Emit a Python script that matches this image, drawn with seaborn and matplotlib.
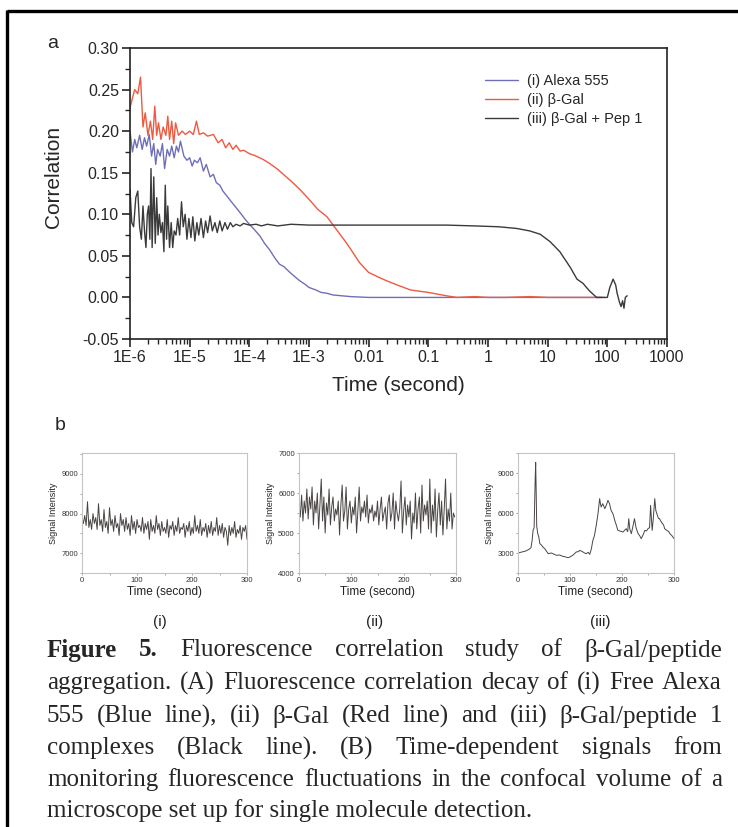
import numpy as np
import matplotlib
matplotlib.use("Agg")
import matplotlib.pyplot as plt
from matplotlib.lines import Line2D
from matplotlib.ticker import MultipleLocator, LogLocator, NullFormatter
import seaborn as sns

W, H = 738, 827

# ---- panel a: correlation decay (time in s, correlation) ----
alexa_t = [1.0e-6, 1.1e-6, 1.2e-6, 1.3e-6, 1.45e-6, 1.6e-6, 1.75e-6, 1.9e-6, 2.1e-6,
           2.3e-6, 2.5e-6, 2.7e-6, 2.9e-6, 3.2e-6, 3.5e-6, 3.8e-6, 4.2e-6, 4.6e-6,
           5.0e-6, 5.5e-6, 6.0e-6, 6.5e-6, 7.0e-6, 8e-6, 9e-6, 1.0e-5, 1.1e-5, 1.2e-5,
           1.35e-5, 1.5e-5, 1.7e-5, 1.9e-5, 2.2e-5, 2.5e-5, 2.8e-5, 3.2e-5, 3.6e-5,
           4.2e-5, 5e-5, 6e-5, 7e-5, 8.5e-5, 1e-4, 1.2e-4, 1.5e-4, 1.8e-4, 2.2e-4,
           2.7e-4, 3.2e-4, 3.8e-4, 4.8e-4, 6e-4, 7e-4, 8.5e-4, 1e-3, 1.3e-3, 1.6e-3,
           2e-3, 2.5e-3, 3.5e-3, 5e-3, 1e-2, 0.03, 0.1, 0.3, 1, 3, 10, 30, 90]
alexa_g = [0.200, 0.175, 0.190, 0.180, 0.195, 0.178, 0.192, 0.182, 0.196,
           0.170, 0.185, 0.160, 0.178, 0.170, 0.185, 0.155, 0.178, 0.170,
           0.182, 0.168, 0.182, 0.175, 0.188, 0.170, 0.165, 0.168, 0.158, 0.165,
           0.162, 0.168, 0.152, 0.160, 0.145, 0.148, 0.138, 0.135, 0.128,
           0.122, 0.115, 0.108, 0.102, 0.094, 0.088, 0.082, 0.074, 0.065, 0.057,
           0.047, 0.040, 0.037, 0.030, 0.024, 0.020, 0.016, 0.012, 0.009, 0.006,
           0.005, 0.003, 0.002, 0.001, 0.000, 0.000, 0.000, 0.000, 0.000, 0.000, 0.000, 0.000, 0.000]

bgal_t = [1.0e-6, 1.1e-6, 1.2e-6, 1.35e-6, 1.5e-6, 1.65e-6, 1.8e-6, 2.0e-6, 2.2e-6,
          2.4e-6, 2.6e-6, 2.8e-6, 3.0e-6, 3.3e-6, 3.6e-6, 4.0e-6, 4.3e-6, 4.6e-6,
          5.0e-6, 5.4e-6, 5.8e-6, 6.5e-6, 7.5e-6, 8.5e-6, 1.0e-5, 1.15e-5, 1.3e-5,
          1.45e-5, 1.7e-5, 2.0e-5, 2.5e-5, 3.0e-5, 3.5e-5, 4.0e-5, 4.6e-5, 5.3e-5,
          6.0e-5, 7e-5, 8e-5, 1e-4, 1.3e-4, 1.7e-4, 2.2e-4, 3e-4, 4e-4, 5e-4, 7e-4,
          1e-3, 1.4e-3, 2e-3, 3e-3, 4e-3, 5e-3, 7e-3, 1e-2, 1.5e-2, 2e-2, 3e-2,
          5e-2, 0.1, 0.2, 0.3, 0.6, 1, 2, 5, 10, 20, 40, 80]
bgal_g = [0.228, 0.240, 0.250, 0.245, 0.265, 0.205, 0.222, 0.195, 0.212,
          0.190, 0.230, 0.195, 0.210, 0.190, 0.205, 0.195, 0.218, 0.190,
          0.212, 0.185, 0.210, 0.195, 0.200, 0.196, 0.200, 0.196, 0.212,
          0.196, 0.198, 0.194, 0.196, 0.186, 0.190, 0.180, 0.186, 0.178,
          0.183, 0.176, 0.177, 0.173, 0.170, 0.166, 0.161, 0.154, 0.146, 0.140, 0.130,
          0.118, 0.106, 0.097, 0.080, 0.068, 0.058, 0.042, 0.030, 0.024, 0.020, 0.015,
          0.009, 0.006, 0.002, 0.000, 0.001, 0.000, 0.000, 0.001, 0.000, 0.000, 0.000, 0.000]

pep_t = [1.0e-6, 1.07e-6, 1.15e-6, 1.25e-6, 1.35e-6, 1.45e-6, 1.55e-6, 1.65e-6, 1.75e-6,
         1.85e-6, 1.95e-6, 2.05e-6, 2.15e-6, 2.25e-6, 2.35e-6, 2.5e-6, 2.65e-6, 2.8e-6,
         2.95e-6, 3.1e-6, 3.3e-6, 3.5e-6, 3.7e-6, 3.9e-6, 4.1e-6, 4.3e-6, 4.6e-6, 4.9e-6,
         5.2e-6, 5.5e-6, 5.9e-6, 6.3e-6, 6.8e-6, 7.3e-6, 7.8e-6, 8.4e-6, 9e-6, 9.7e-6,
         1.05e-5, 1.13e-5, 1.22e-5, 1.32e-5, 1.42e-5, 1.55e-5, 1.7e-5, 1.85e-5, 2.0e-5,
         2.2e-5, 2.4e-5, 2.65e-5, 2.9e-5, 3.2e-5, 3.5e-5, 3.9e-5, 4.3e-5, 4.8e-5, 5.3e-5,
         6e-5, 7e-5, 8e-5, 1e-4, 1.3e-4, 1.6e-4, 2e-4, 3e-4, 5e-4, 1e-3, 3e-3, 0.01,
         0.05, 0.2, 0.6, 1.5, 3, 5, 7.5, 11, 16, 24, 31, 39, 50, 66, 83, 100, 110, 125,
         138, 146, 160, 170, 180, 190, 200, 215]
pep_g = [0.130, 0.090, 0.085, 0.120, 0.128, 0.085, 0.070, 0.110, 0.080,
         0.060, 0.100, 0.110, 0.070, 0.155, 0.060, 0.145, 0.065, 0.120,
         0.075, 0.100, 0.078, 0.090, 0.055, 0.135, 0.070, 0.110, 0.060, 0.090,
         0.060, 0.080, 0.075, 0.095, 0.075, 0.115, 0.085, 0.100, 0.070, 0.095,
         0.072, 0.097, 0.068, 0.090, 0.075, 0.095, 0.072, 0.092, 0.078,
         0.098, 0.080, 0.090, 0.078, 0.092, 0.080, 0.090, 0.082, 0.090, 0.085,
         0.088, 0.086, 0.089, 0.087, 0.088, 0.086, 0.088, 0.086, 0.088, 0.087, 0.087, 0.087,
         0.087, 0.087, 0.086, 0.085, 0.083, 0.080, 0.076, 0.067, 0.055, 0.036, 0.022, 0.017,
         0.008, 0.000, 0.000, 0.000, 0.012, 0.022, 0.015, 0.005, -0.006, -0.011, -0.004,
         -0.013, 0.000, 0.002]

series_labels = ["(i) Alexa 555", "(ii) \u03b2-Gal", "(iii) \u03b2-Gal + Pep 1"]
series_colors = ["#6f6fb8", "#ee5a40", "#3a3a3a"]
xtick_vals = [1e-6, 1e-5, 1e-4, 1e-3, 1e-2, 1e-1, 1, 10, 100, 1000]
xtick_text = ["1E-6", "1E-5", "1E-4", "1E-3", "0.01", "0.1", "1", "10", "100", "1000"]

# ---- panel b: signal traces ----
step_i = 2.5
signal_i = [7900, 7750, 7950, 7700, 8300, 7650, 7850, 7600, 8000, 7750, 7900, 7600, 8250,
            7700, 7850, 7550, 8100, 7650, 7800, 7500, 8150, 7700, 7850, 7550, 7950, 7650,
            7750, 7450, 8000, 7700, 7850, 7550, 7900, 7600, 7750, 7450, 7950, 7600, 7800,
            7500, 7850, 7650, 7700, 7550, 7900, 7500, 7750, 7600, 7800, 7350, 7850, 7550,
            7700, 7500, 7950, 7600, 7750, 7450, 7800, 7550, 7650, 7500, 7850, 7400, 7700,
            7600, 7800, 7450, 7700, 7550, 7900, 7500, 7650, 7600, 7750, 7400, 7700, 7550,
            7800, 7450, 7650, 7500, 7950, 7550, 7700, 7500, 7850, 7450, 7650, 7550, 7750,
            7400, 7700, 7500, 7800, 7450, 7650, 7550, 7900, 7450, 7700, 7500, 7750, 7400,
            7650, 7550, 7200, 7700, 7450, 7650, 7500, 7800, 7400, 7600, 7500, 7700, 7350,
            7650, 7550, 7700, 7350]
step_ii = 2.5
signal_ii = [5700, 5400, 5950, 5300, 5800, 5500, 6100, 5350, 5900, 5600, 6150, 5200, 5800,
             5500, 6000, 5100, 5700, 6350, 5300, 5900, 5000, 5750, 5450, 6100, 5200, 5650,
             5900, 5300, 5600, 5450, 5800, 4950, 5700, 6200, 5300, 5550, 6150, 5100, 5600,
             5800, 5250, 5650, 5450, 5900, 5000, 5550, 6150, 5300, 5650, 5500, 5800, 5400,
             5950, 5250, 5600, 5500, 5700, 5300, 5550, 5400, 5800, 5200, 5600, 5900, 5300,
             5500, 5650, 5100, 5750, 5950, 5300, 5500, 6000, 5100, 5800, 5500, 5300, 5600,
             6300, 5000, 5550, 5900, 5200, 5700, 5400, 5800, 4850, 5500, 5250, 6000, 5100,
             5600, 5900, 5000, 6200, 5300, 5700, 5450, 5800, 5100, 6350, 5000, 5700, 5300,
             6100, 4900, 5550, 6000, 5200, 5800, 4950, 5600, 6350, 5100, 5600, 5300, 6000,
             5100, 5500, 5400]
time_iii = [0, 5, 10, 15, 20, 22, 25, 27, 29, 31, 33, 34, 35, 36, 38, 40, 42, 45, 48, 52,
            58, 64, 70, 74, 80, 86, 92, 96, 100, 106, 112, 116, 119, 124, 128, 131, 135, 138,
            141, 144, 147, 151, 154, 157, 159, 160, 163, 167, 170, 173, 176, 179, 183, 186,
            189, 192, 196, 202, 205, 208, 211, 213, 215, 218, 221, 224, 227, 231, 234, 237,
            241, 244, 247, 250, 253, 255, 258, 260, 263, 265, 267, 270, 272, 276, 280, 282,
            286, 290, 292, 296, 300]
signal_iii = [3000, 3050, 3100, 3150, 3250, 3300, 3400, 3900, 4700, 4900, 8500, 9800, 7500,
              5000, 4450, 4200, 3700, 3600, 3450, 3300, 2950, 3000, 2900, 2825, 2850, 2750,
              2700, 2650, 2700, 2850, 3075, 3100, 3200, 3100, 3000, 2950, 3050, 2900, 3300,
              3950, 4300, 5200, 6000, 7075, 6600, 6450, 6700, 6325, 6600, 6950, 6700, 6200,
              5900, 5450, 5100, 4700, 4650, 4575, 4700, 4825, 4600, 5575, 4800, 4450, 5000,
              5575, 4900, 4450, 4300, 4075, 4400, 4700, 4650, 4825, 4900, 6575, 4700, 5500,
              7075, 6200, 5950, 5600, 5575, 5300, 5100, 4825, 4700, 4600, 4450, 4300, 4075]

sns.set_style("ticks")
plt.rcParams["font.family"] = ["Liberation Sans", "DejaVu Sans"]

fig = plt.figure(figsize=(W / 100, H / 100), dpi=100)


def px_axes(left, top, right, bottom):
    return fig.add_axes([left / W, 1 - bottom / H, (right - left) / W, (bottom - top) / H])


# ---------------- panel a ----------------
ax = px_axes(130, 48, 667, 339)
for t, g, lab, col in zip([alexa_t, bgal_t, pep_t], [alexa_g, bgal_g, pep_g],
                          series_labels, series_colors):
    sns.lineplot(x=t, y=g, ax=ax, color=col, lw=1.0, label=lab, sort=False,
                 estimator=None)
ax.set_xscale("log")
ax.set_xlim(1e-6, 1000)
ax.set_ylim(-0.05, 0.30)
ax.set_xticks(xtick_vals)
ax.set_xticklabels(xtick_text)
ax.xaxis.set_minor_locator(LogLocator(base=10, subs=np.arange(2, 10), numticks=20))
ax.xaxis.set_minor_formatter(NullFormatter())
ax.set_yticks(np.arange(-0.05, 0.301, 0.05))
ax.set_yticklabels(["%.2f" % v for v in np.arange(-0.05, 0.301, 0.05)])
ax.yaxis.set_minor_locator(MultipleLocator(0.025))
ax.tick_params(which="major", direction="out", length=6, width=1.2, labelsize=11.5,
               pad=2, top=False, right=False)
ax.tick_params(which="minor", direction="out", length=3.5, width=1.0, top=False, right=False)
for s in ax.spines.values():
    s.set_linewidth(1.2)
    s.set_color("#222222")
ax.set_xlabel("Time (second)", fontsize=15, labelpad=8)
ax.set_ylabel("Correlation", fontsize=15)
ax.yaxis.set_label_coords(-0.125, 0.557)
ax.legend(loc="upper right", bbox_to_anchor=(0.968, 0.935), frameon=False, fontsize=10.5,
          handlelength=2.3, handletextpad=0.6, labelspacing=0.35, borderpad=0)
fig.text(53 / W, 1 - 43 / H, "a", fontsize=14, ha="center", va="center")

# ---------------- panel b ----------------
time_i = np.arange(len(signal_i)) * step_i
time_ii = np.arange(len(signal_ii)) * step_ii
panels = [
    ((82, 453, 247, 573), time_i, signal_i, (6500, 9530), [7000, 8000, 9000], 500, "(i)", 160),
    ((299, 453, 456, 573), time_ii, signal_ii, (4000, 7000), [4000, 5000, 6000, 7000], 500, "(ii)", 375),
    ((518, 453, 674, 573), time_iii, signal_iii, (1500, 10500), [3000, 6000, 9000], 1500, "(iii)", 600),
]
for box, tx, sy, ylim, yt, ymin, tag, tag_x in panels:
    bx = px_axes(*box)
    sns.lineplot(x=tx, y=sy, ax=bx, color="#4a4444", lw=0.7, sort=False, estimator=None)
    bx.set_xlim(0, 300)
    bx.set_ylim(*ylim)
    bx.set_xticks([0, 100, 200, 300])
    bx.xaxis.set_minor_locator(MultipleLocator(50))
    bx.set_yticks(yt)
    bx.yaxis.set_minor_locator(MultipleLocator(ymin))
    bx.tick_params(which="both", direction="out", length=1.5, width=0.6, colors="#999999",
                   labelcolor="#333333", labelsize=5.5, pad=1.5)
    for s in bx.spines.values():
        s.set_linewidth(0.8)
        s.set_color("#c4c4c4")
    bx.set_xlabel("Time (second)", fontsize=8.5, labelpad=1, color="#222222")
    bx.set_ylabel("Signal Intensity", fontsize=6.5, labelpad=2, color="#222222")
    fig.text(tag_x / W, 1 - 622 / H, tag, fontsize=11, ha="center", va="center", color="#222222")
fig.text(60 / W, 1 - 426 / H, "b", fontsize=14, ha="center", va="center")

# ---------------- frame ----------------
fig.add_artist(Line2D([7 / W, 1.0], [1 - 11 / H, 1 - 11 / H], color="black", lw=2.4,
                      transform=fig.transFigure, solid_capstyle="butt"))
fig.add_artist(Line2D([7 / W, 7 / W], [1 - 10 / H, 0.0], color="black", lw=2.4,
                      transform=fig.transFigure, solid_capstyle="butt"))

# ---------------- caption (justified) ----------------
caption_lines = [
    [("Figure", True), ("5.", True), ("Fluorescence", False), ("correlation", False),
     ("study", False), ("of", False), ("\u03b2-Gal/peptide", False)],
    "aggregation. (A) Fluorescence correlation decay of (i) Free Alexa",
    "555 (Blue line), (ii) \u03b2-Gal (Red line) and (iii) \u03b2-Gal/peptide 1",
    "complexes (Black line). (B) Time-dependent signals from",
    "monitoring fluorescence fluctuations in the confocal volume of a",
    "microscope set up for single molecule detection.",
]
caption_y = [650, 683, 716, 748, 780, 811]
cap_x0, cap_x1 = 47, 722
cap_size = 18
renderer = fig.canvas.get_renderer()
for i, (line, y) in enumerate(zip(caption_lines, caption_y)):
    if isinstance(line, str):
        words = [(w, False) for w in line.split(" ")]
    else:
        words = line
    if i == len(caption_lines) - 1:
        fig.text(cap_x0 / W, 1 - y / H, line, fontsize=cap_size, family="Liberation Serif",
                 ha="left", va="center")
        continue
    texts = [fig.text(0, 1 - y / H, w, fontsize=cap_size, family="Liberation Serif",
                      fontweight="bold" if b else "normal", ha="left", va="center")
             for w, b in words]
    widths = [t.get_window_extent(renderer).width for t in texts]
    gap = (cap_x1 - cap_x0 - sum(widths)) / (len(texts) - 1)
    x = cap_x0
    for t, wd in zip(texts, widths):
        t.set_x(x / W)
        x += wd + gap

fig.savefig("out.png", dpi=100)
